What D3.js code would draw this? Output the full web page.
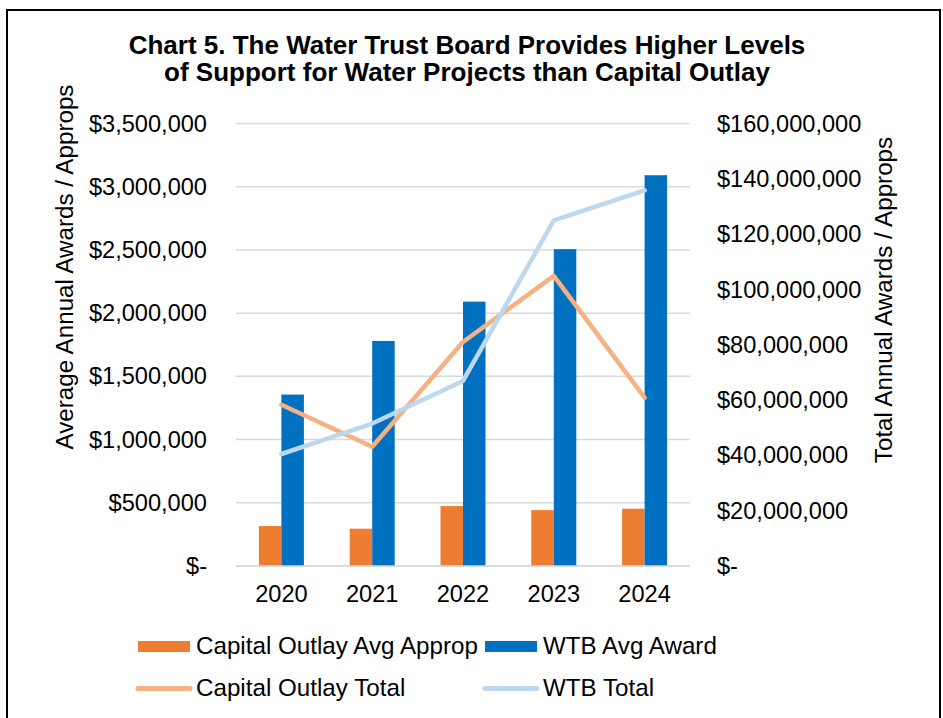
<!DOCTYPE html>
<html>
<head>
<meta charset="utf-8">
<script src="https://cdn.jsdelivr.net/npm/d3@7"></script>
<style>
  body { margin: 0; background: #fff; }
  svg { font-family: Arial, "Liberation Sans", sans-serif; }
</style>
</head>
<body>
<div id="graph"></div>
<script>
const years = ['2020', '2021', '2022', '2023', '2024'];
const capAvg = [316000, 295000, 474000, 442000, 453000];
const wtbAvg = [1356000, 1780000, 2091000, 2506000, 3091000];
const capTotal = [58300000, 43100000, 81000000, 104900000, 60900000];
const wtbTotal = [40500000, 51500000, 66900000, 125000000, 135800000];
const leftTicks = [0, 500000, 1000000, 1500000, 2000000, 2500000, 3000000, 3500000];
const rightTicks = [0, 20000000, 40000000, 60000000, 80000000, 100000000, 120000000, 140000000, 160000000];

const width = 943, height = 718;
const plotLeft = 236, plotRight = 690, plotTop = 123.5, plotBottom = 566;

const svg = d3.select('#graph')
  .append('svg')
  .attr('width', width)
  .attr('height', height);

svg.append('rect')
  .attr('x', 7).attr('y', 10)
  .attr('width', 933).attr('height', 720)
  .attr('fill', '#fff')
  .attr('stroke', '#000')
  .attr('stroke-width', 2);

const fmt = d => d === 0 ? '$-' : '$' + d3.format(',')(d);

const x = d3.scaleBand().domain(years).range([plotLeft, plotRight]);
const yL = d3.scaleLinear().domain([0, 3500000]).range([plotBottom, plotTop]);
const yR = d3.scaleLinear().domain([0, 160000000]).range([plotBottom, plotTop]);

// gridlines
svg.append('g')
  .selectAll('line')
  .data(leftTicks)
  .enter()
  .append('line')
  .attr('x1', plotLeft).attr('x2', plotRight)
  .attr('y1', d => yL(d)).attr('y2', d => yL(d))
  .attr('stroke', '#d9d9d9')
  .attr('stroke-width', 1.5);

// bars
const barW = 22.5;
svg.append('g')
  .selectAll('rect')
  .data(capAvg)
  .enter()
  .append('rect')
  .attr('x', (d, i) => x(years[i]) + x.bandwidth() / 2 - barW)
  .attr('y', d => yL(d))
  .attr('width', barW)
  .attr('height', d => plotBottom - yL(d))
  .attr('fill', '#ED7D31');

svg.append('g')
  .selectAll('rect')
  .data(wtbAvg)
  .enter()
  .append('rect')
  .attr('x', (d, i) => x(years[i]) + x.bandwidth() / 2)
  .attr('y', d => yL(d))
  .attr('width', barW)
  .attr('height', d => plotBottom - yL(d))
  .attr('fill', '#0070C0');

// lines
const line = d3.line()
  .x((d, i) => x(years[i]) + x.bandwidth() / 2)
  .y(d => yR(d));

svg.append('path')
  .datum(capTotal)
  .attr('d', line)
  .attr('fill', 'none')
  .attr('stroke', '#F4B183')
  .attr('stroke-width', 4.5)
  .attr('stroke-linecap', 'round')
  .attr('stroke-linejoin', 'round');

svg.append('path')
  .datum(wtbTotal)
  .attr('d', line)
  .attr('fill', 'none')
  .attr('stroke', '#BDD7EE')
  .attr('stroke-width', 4.5)
  .attr('stroke-linecap', 'round')
  .attr('stroke-linejoin', 'round');

// axes
const axisL = d3.axisLeft(yL).tickValues(leftTicks).tickFormat(fmt).tickSize(0).tickPadding(29);
const gL = svg.append('g').attr('transform', 'translate(' + plotLeft + ',0)').call(axisL);
const axisR = d3.axisRight(yR).tickValues(rightTicks).tickFormat(fmt).tickSize(0).tickPadding(27);
const gR = svg.append('g').attr('transform', 'translate(' + plotRight + ',0)').call(axisR);
const axisX = d3.axisBottom(x).tickSize(0).tickPadding(19);
const gX = svg.append('g').attr('transform', 'translate(0,' + plotBottom + ')').call(axisX);

[gL, gR, gX].forEach(g => {
  g.select('.domain').remove();
  g.selectAll('text')
    .attr('font-family', 'Arial, "Liberation Sans", sans-serif')
    .attr('font-size', 23.6)
    .attr('fill', '#000');
});
svg.append('line')
  .attr('x1', plotLeft).attr('x2', plotRight)
  .attr('y1', plotBottom).attr('y2', plotBottom)
  .attr('stroke', '#d9d9d9').attr('stroke-width', 1.5);

// axis titles
svg.append('text')
  .attr('transform', 'translate(73,267) rotate(-90)')
  .attr('text-anchor', 'middle')
  .attr('font-size', 24.2)
  .text('Average Annual Awards / Approps');

svg.append('text')
  .attr('transform', 'translate(892,300) rotate(-90)')
  .attr('text-anchor', 'middle')
  .attr('font-size', 24.2)
  .text('Total Annual Awards / Approps');

// title
svg.append('text')
  .attr('x', 467).attr('y', 54)
  .attr('text-anchor', 'middle')
  .attr('font-size', 26)
  .attr('font-weight', 'bold')
  .text('Chart 5. The Water Trust Board Provides Higher Levels');
svg.append('text')
  .attr('x', 467).attr('y', 81)
  .attr('text-anchor', 'middle')
  .attr('font-size', 26)
  .attr('font-weight', 'bold')
  .text('of Support for Water Projects than Capital Outlay');

// legend
const legend = [
  { name: 'Capital Outlay Avg Approp', color: '#ED7D31', type: 'bar', x: 138, y: 646.5 },
  { name: 'WTB Avg Award', color: '#0070C0', type: 'bar', x: 485, y: 646.5 },
  { name: 'Capital Outlay Total', color: '#F4B183', type: 'line', x: 138, y: 688.5 },
  { name: 'WTB Total', color: '#BDD7EE', type: 'line', x: 485, y: 688.5 },
];
legend.forEach(l => {
  if (l.type === 'bar') {
    svg.append('rect')
      .attr('x', l.x).attr('y', l.y - 5.5)
      .attr('width', 52).attr('height', 11)
      .attr('fill', l.color);
  } else {
    svg.append('line')
      .attr('x1', l.x).attr('x2', l.x + 52)
      .attr('y1', l.y).attr('y2', l.y)
      .attr('stroke', l.color)
      .attr('stroke-width', 5)
      .attr('stroke-linecap', 'round');
  }
  svg.append('text')
    .attr('x', l.x + 58).attr('y', l.y + 7.5)
    .attr('font-size', 24.2)
    .text(l.name);
});
</script>
</body>
</html>
